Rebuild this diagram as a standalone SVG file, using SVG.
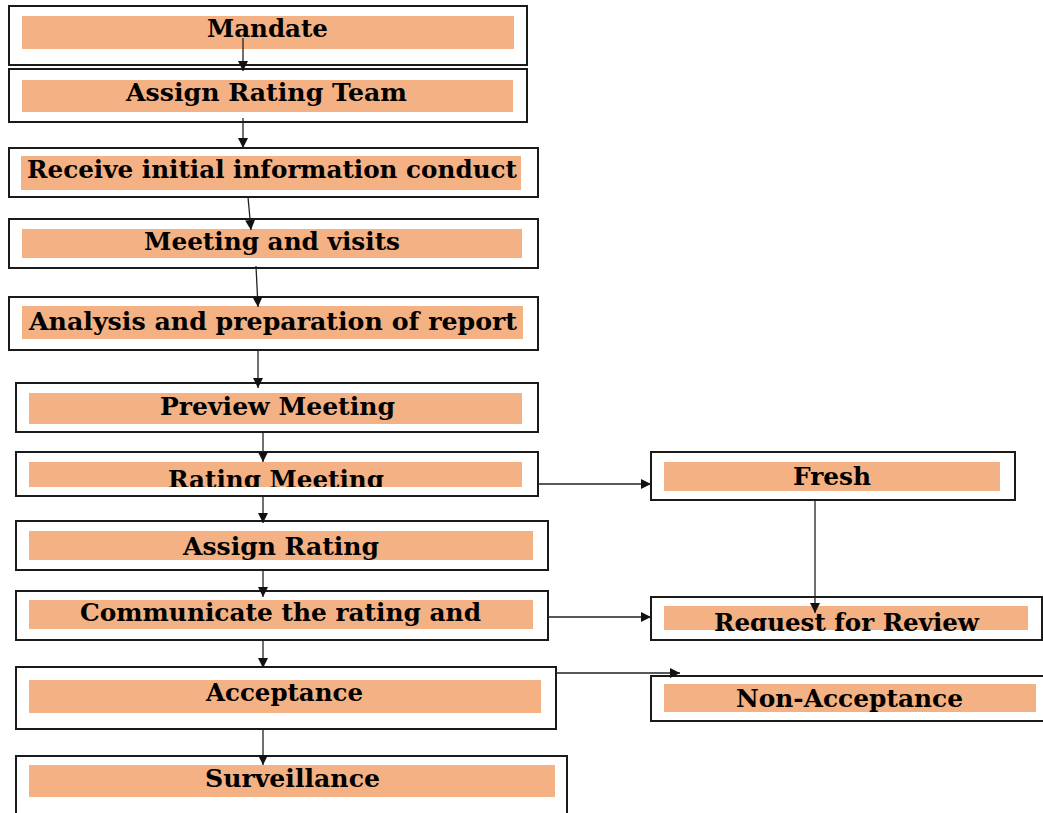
<svg xmlns="http://www.w3.org/2000/svg" width="1043" height="813" viewBox="0 0 1043 813">
<style>
.box{fill:#fff;stroke:#1a1a1a;stroke-width:2}
.band{fill:#F4B183}
.t{font-family:"DejaVu Serif","Liberation Serif",serif;font-weight:bold;font-size:25px;fill:#000;text-anchor:start}
.c{fill:none;stroke:#222;stroke-width:1.3}
</style>
<defs>
<marker id="ah" viewBox="0 0 10 10" refX="10" refY="5" markerWidth="10" markerHeight="10" markerUnits="userSpaceOnUse" orient="auto">
<path d="M0,0 L10,5 L0,10 z" fill="#111"/>
</marker>
<clipPath id="clipRM"><rect x="0" y="440" width="560" height="47"/></clipPath>
<clipPath id="clipRR"><rect x="640" y="600" width="403" height="31"/></clipPath>
</defs>
<rect width="1043" height="813" fill="#fff"/>

<g id="n-mandate">
<rect class="box" x="9" y="6" width="518" height="59"/>
<rect class="band" x="22" y="16" width="492" height="33"/>
<text class="t" x="207" y="37" textLength="121" lengthAdjust="spacingAndGlyphs">Mandate</text>
</g>
<g id="n-team">
<rect class="box" x="9" y="69" width="518" height="53"/>
<rect class="band" x="22" y="80" width="491" height="32"/>
<text class="t" x="126" y="101" textLength="281" lengthAdjust="spacingAndGlyphs">Assign Rating Team</text>
</g>
<g id="n-receive">
<rect class="box" x="9" y="148" width="529" height="49"/>
<rect class="band" x="21" y="156" width="500" height="34"/>
<text class="t" x="27" y="178" textLength="490" lengthAdjust="spacingAndGlyphs">Receive initial information conduct</text>
</g>
<g id="n-meeting">
<rect class="box" x="9" y="219" width="529" height="49"/>
<rect class="band" x="22" y="229" width="500" height="29"/>
<text class="t" x="144" y="250" textLength="256" lengthAdjust="spacingAndGlyphs">Meeting and visits</text>
</g>
<g id="n-analysis">
<rect class="box" x="9" y="297" width="529" height="53"/>
<rect class="band" x="22" y="306" width="501" height="33"/>
<text class="t" x="29" y="330" textLength="488" lengthAdjust="spacingAndGlyphs">Analysis and preparation of report</text>
</g>
<g id="n-preview">
<rect class="box" x="16" y="383" width="522" height="49"/>
<rect class="band" x="29" y="393" width="493" height="31"/>
<text class="t" x="160" y="415" textLength="235" lengthAdjust="spacingAndGlyphs">Preview Meeting</text>
</g>
<g id="n-rating-meeting">
<rect class="box" x="16" y="452" width="522" height="44"/>
<rect class="band" x="29" y="462" width="493" height="25"/>
<text class="t" x="168" y="488" textLength="216" lengthAdjust="spacingAndGlyphs" clip-path="url(#clipRM)">Rating Meeting</text>
</g>
<g id="n-assign-rating">
<rect class="box" x="16" y="521" width="532" height="49"/>
<rect class="band" x="29" y="531" width="504" height="29"/>
<text class="t" x="183" y="555" textLength="196" lengthAdjust="spacingAndGlyphs">Assign Rating</text>
</g>
<g id="n-communicate">
<rect class="box" x="16" y="591" width="532" height="49"/>
<rect class="band" x="29" y="600" width="504" height="29"/>
<text class="t" x="80" y="621" textLength="401" lengthAdjust="spacingAndGlyphs">Communicate the rating and</text>
</g>
<g id="n-acceptance">
<rect class="box" x="16" y="667" width="540" height="62"/>
<rect class="band" x="29" y="680" width="512" height="33"/>
<text class="t" x="206" y="701" textLength="157" lengthAdjust="spacingAndGlyphs">Acceptance</text>
</g>
<g id="n-surveillance">
<rect class="box" x="16" y="756" width="551" height="70"/>
<rect class="band" x="29" y="765" width="526" height="32"/>
<text class="t" x="205" y="787" textLength="175" lengthAdjust="spacingAndGlyphs">Surveillance</text>
</g>
<g id="n-fresh">
<rect class="box" x="651" y="452" width="364" height="48"/>
<rect class="band" x="664" y="462" width="336" height="29"/>
<text class="t" x="793" y="485" textLength="78" lengthAdjust="spacingAndGlyphs">Fresh</text>
</g>
<g id="n-review">
<rect class="box" x="651" y="597" width="391" height="43"/>
<rect class="band" x="664" y="606" width="364" height="24"/>
<text class="t" x="714" y="631" textLength="265" lengthAdjust="spacingAndGlyphs" clip-path="url(#clipRR)">Request for Review</text>
</g>
<g id="n-nonacceptance">
<rect class="box" x="651" y="676" width="400" height="45"/>
<rect class="band" x="664" y="684" width="372" height="28"/>
<text class="t" x="736" y="707" textLength="227" lengthAdjust="spacingAndGlyphs">Non-Acceptance</text>
</g>

<g id="connectors">
<line class="c" x1="243" y1="38" x2="243" y2="71" marker-end="url(#ah)"/>
<line class="c" x1="243" y1="118" x2="243" y2="148" marker-end="url(#ah)"/>
<line class="c" x1="248" y1="197" x2="251" y2="230" marker-end="url(#ah)"/>
<line class="c" x1="256" y1="266" x2="258" y2="307" marker-end="url(#ah)"/>
<line class="c" x1="258" y1="351" x2="258" y2="388" marker-end="url(#ah)"/>
<line class="c" x1="263" y1="432" x2="263" y2="462" marker-end="url(#ah)"/>
<line class="c" x1="263" y1="496" x2="263" y2="523" marker-end="url(#ah)"/>
<line class="c" x1="263" y1="570" x2="263" y2="597" marker-end="url(#ah)"/>
<line class="c" x1="263" y1="640" x2="263" y2="668" marker-end="url(#ah)"/>
<line class="c" x1="263" y1="729" x2="263" y2="765" marker-end="url(#ah)"/>
<line class="c" x1="538" y1="484" x2="651" y2="484" marker-end="url(#ah)"/>
<line class="c" x1="815" y1="500" x2="815" y2="613" marker-end="url(#ah)"/>
<line class="c" x1="548" y1="617" x2="651" y2="617" marker-end="url(#ah)"/>
<line class="c" x1="556" y1="673" x2="680" y2="673" marker-end="url(#ah)"/>
</g>
</svg>
